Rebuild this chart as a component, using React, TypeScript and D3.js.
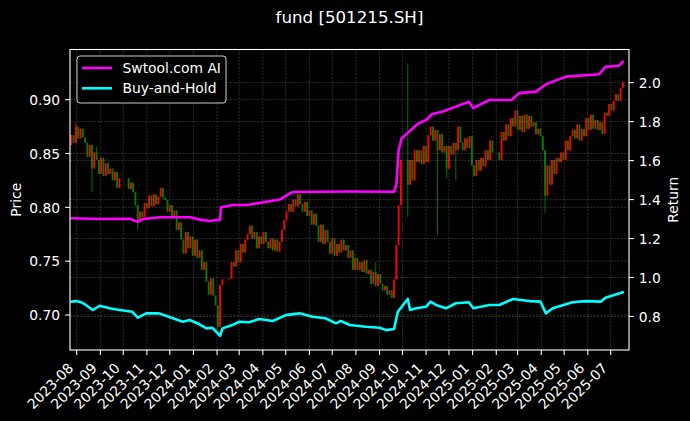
import React from 'react';
import * as d3 from 'd3';

const W = 690;
const H = 421;
const PLOT = { left: 70, right: 629, top: 49.5, bottom: 350 };

const chartTitle = 'fund [501215.SH]';
const leftLabel = 'Price';
const rightLabel = 'Return';
const seriesNames = ['Swtool.com AI', 'Buy-and-Hold'];
const seriesColors = ['#ff00ff', '#00ffff'];

const priceTicks = [0.7, 0.75, 0.8, 0.85, 0.9];
const returnTicks = [0.8, 1.0, 1.2, 1.4, 1.6, 1.8, 2.0];
const monthTicks = [
  '2023-08', '2023-09', '2023-10', '2023-11', '2023-12',
  '2024-01', '2024-02', '2024-03', '2024-04', '2024-05', '2024-06', '2024-07',
  '2024-08', '2024-09', '2024-10', '2024-11', '2024-12',
  '2025-01', '2025-02', '2025-03', '2025-04', '2025-05', '2025-06', '2025-07',
];

// candles: one every 3 calendar days starting at candleStart (null = market closed)
const candleStart = '2023-07-25';
const candleStepDays = 3;
const firstOpen = 0.858;
const closes: (number | null)[] = [
  0.867, 0.860, 0.875, 0.864, 0.873, 0.865, 0.860, 0.847, 0.858, 0.836,
  0.851, 0.844, 0.831, 0.846, 0.829, 0.841, 0.831, 0.836, 0.825, 0.833,
  0.818, 0.827, null, null, null, 0.817, 0.823, 0.814, 0.802, 0.788,
  0.796, 0.791, 0.804, 0.799, 0.811, 0.801, 0.812, 0.803, 0.810, 0.818,
  0.809, 0.807, 0.796, 0.802, 0.790, 0.797, 0.779, 0.786, 0.770, 0.757,
  0.777, 0.762, 0.773, 0.755, 0.770, 0.753, 0.760, 0.742, 0.749, 0.731,
  0.719, 0.734, 0.718, 0.709, 0.689, 0.728, 0.733, null, null, 0.734,
  0.749, 0.745, 0.760, 0.749, 0.766, 0.758, 0.770, 0.775, 0.783, 0.771,
  0.777, 0.762, 0.773, 0.766, 0.777, 0.768, 0.762, 0.771, 0.760, 0.770,
  0.759, 0.768, 0.779, 0.788, 0.796, 0.803, 0.796, 0.807, 0.801, 0.812,
  0.803, 0.796, 0.805, 0.792, 0.797, 0.784, 0.794, 0.783, 0.768, 0.784,
  0.766, 0.779, 0.768, 0.757, 0.771, 0.755, 0.766, 0.758, 0.770, 0.760,
  0.765, 0.753, 0.760, 0.742, 0.753, 0.742, 0.749, 0.740, 0.751, 0.738,
  0.742, 0.729, 0.740, 0.727, 0.738, 0.729, 0.723, 0.727, 0.719, 0.723,
  0.716, 0.733, 0.765, 0.802, 0.844, null, null, 0.821, 0.844, 0.825,
  0.853, 0.842, 0.853, 0.840, 0.857, 0.842, 0.867, 0.875, 0.862, 0.872,
  0.853, 0.868, 0.851, 0.857, 0.836, 0.857, 0.849, 0.860, 0.853, 0.875,
  0.860, 0.853, 0.864, 0.855, 0.866, 0.839, 0.829, 0.844, 0.834, 0.846,
  0.838, 0.853, 0.844, 0.862, 0.851, null, null, 0.844, 0.870, 0.862,
  0.877, 0.866, 0.883, 0.875, 0.890, 0.872, 0.885, 0.870, 0.886, 0.873,
  0.885, 0.875, 0.879, 0.868, 0.873, 0.866, 0.853, 0.811, 0.839, 0.821,
  0.844, 0.831, 0.846, 0.842, 0.851, 0.844, 0.862, 0.853, 0.866, 0.872,
  0.864, 0.877, 0.862, 0.873, 0.866, 0.883, 0.872, 0.886, 0.873, 0.881,
  0.872, 0.879, 0.868, 0.888, 0.885, 0.896, 0.890, 0.899, 0.905, 0.899,
  0.911, 0.916,
];
// long wicks: [candle index, price]
const wickHighs: [number, number][] = [[2, 0.878], [11, 0.856], [133, 0.749], [147, 0.934]];
const wickLows: [number, number][] = [
  [9, 0.814], [29, 0.779], [64, 0.686], [147, 0.791], [160, 0.774],
  [164, 0.827], [168, 0.825], [207, 0.795],
];

const aiDates = [
  '2023-07-25', '2023-08-31', '2023-10-10', '2023-10-20', '2023-10-27', '2023-11-18',
  '2023-12-28', '2024-01-09', '2024-01-23', '2024-01-31', '2024-02-05', '2024-02-06',
  '2024-02-22', '2024-03-11', '2024-04-23', '2024-05-10', '2024-07-24', '2024-09-20',
  '2024-09-23', '2024-09-26', '2024-09-30', '2024-10-08', '2024-10-15', '2024-10-21',
  '2024-11-01', '2024-11-09', '2024-11-22', '2024-12-10', '2024-12-27', '2025-01-02',
  '2025-01-10', '2025-01-23', '2025-02-21', '2025-03-03', '2025-03-25', '2025-04-08',
  '2025-04-16', '2025-05-04', '2025-06-16', '2025-06-24', '2025-07-12', '2025-07-17',
];
const aiValues = [
  1.304, 1.300, 1.301, 1.286, 1.300, 1.309,
  1.309, 1.297, 1.290, 1.295, 1.295, 1.360,
  1.372, 1.372, 1.400, 1.439, 1.441, 1.440,
  1.475, 1.654, 1.715, 1.742, 1.767, 1.788,
  1.808, 1.839, 1.851, 1.877, 1.902, 1.869,
  1.886, 1.911, 1.911, 1.946, 1.954, 1.993,
  2.005, 2.031, 2.043, 2.081, 2.087, 2.108,
];

const bhDates = [
  '2023-07-25', '2023-07-31', '2023-08-07', '2023-08-13', '2023-08-22', '2023-08-31',
  '2023-09-13', '2023-09-26', '2023-10-13', '2023-10-20', '2023-10-31', '2023-11-17',
  '2023-12-05', '2023-12-18', '2023-12-27', '2024-01-09', '2024-01-18', '2024-01-26',
  '2024-02-05', '2024-02-08', '2024-02-21', '2024-03-01', '2024-03-14', '2024-03-27',
  '2024-04-14', '2024-05-01', '2024-05-19', '2024-06-05', '2024-06-22', '2024-07-06',
  '2024-07-12', '2024-07-24', '2024-08-14', '2024-09-01', '2024-09-10', '2024-09-20',
  '2024-09-25', '2024-09-30', '2024-10-08', '2024-10-11', '2024-10-19', '2024-11-01',
  '2024-11-07', '2024-11-14', '2024-11-27', '2024-12-10', '2024-12-27', '2025-01-02',
  '2025-01-23', '2025-02-05', '2025-02-23', '2025-03-16', '2025-03-31', '2025-04-07',
  '2025-04-16', '2025-05-12', '2025-05-29', '2025-06-18', '2025-06-24', '2025-07-17',
];
const bhValues = [
  0.876, 0.879, 0.873, 0.859, 0.833, 0.855,
  0.842, 0.833, 0.824, 0.794, 0.816, 0.816,
  0.791, 0.773, 0.782, 0.760, 0.739, 0.742,
  0.701, 0.739, 0.756, 0.773, 0.770, 0.787,
  0.777, 0.807, 0.816, 0.799, 0.791, 0.765,
  0.777, 0.756, 0.747, 0.742, 0.730, 0.736,
  0.824, 0.850, 0.890, 0.833, 0.842, 0.850,
  0.876, 0.859, 0.842, 0.868, 0.873, 0.842,
  0.859, 0.859, 0.890, 0.879, 0.876, 0.816,
  0.842, 0.873, 0.879, 0.876, 0.896, 0.924,
];

const parseDay = d3.timeParse('%Y-%m-%d');
const parseMonth = d3.timeParse('%Y-%m');
const FONT = 'DejaVu Sans, sans-serif';

export default function App() {
  const x = d3
    .scaleTime()
    .domain([new Date(2023, 6, 23, 5), new Date(2025, 6, 25)])
    .range([PLOT.left, PLOT.right]);
  const yL = d3.scaleLinear().domain([0.6675, 0.9466]).range([PLOT.bottom, PLOT.top]);
  const yR = d3.scaleLinear().domain([0.628, 2.17]).range([PLOT.bottom, PLOT.top]);

  const start = parseDay(candleStart) as Date;
  const hiMap = new Map(wickHighs);
  const loMap = new Map(wickLows);
  const candles: { date: Date; o: number; c: number; h: number; l: number }[] = [];
  let prev = firstOpen;
  closes.forEach((c, i) => {
    if (c == null) return;
    const o = prev;
    const h = Math.max(o, c, hiMap.get(i) ?? -Infinity);
    const l = Math.min(o, c, loMap.get(i) ?? Infinity);
    candles.push({ date: d3.timeDay.offset(start, i * candleStepDays), o, c, h, l });
    prev = c;
  });

  const line = d3
    .line<[Date, number]>()
    .x((d) => x(d[0]))
    .y((d) => yR(d[1]));
  const aiPts: [Date, number][] = aiDates.map((d, i) => [parseDay(d) as Date, aiValues[i]]);
  const bhPts: [Date, number][] = bhDates.map((d, i) => [parseDay(d) as Date, bhValues[i]]);

  const gridStyle = {
    stroke: '#a0a0a0',
    strokeOpacity: 0.45,
    strokeWidth: 0.6,
    strokeDasharray: '2.2,1.2',
  };
  const fmtP = d3.format('.2f');
  const fmtR = d3.format('.1f');
  const fmtM = d3.timeFormat('%Y-%m');

  return (
    <svg
      width={W}
      height={H}
      style={{ position: 'absolute', left: 0, top: 0, display: 'block', background: '#000' }}
      fontFamily={FONT}
    >
      <rect x={0} y={0} width={W} height={H} fill="#000" />
      <text x={349.5} y={22.5} fill="#fff" fontSize={16.67} textAnchor="middle">
        {chartTitle}
      </text>

      {monthTicks.map((m) => {
        const xx = x(parseMonth(m) as Date);
        return <line key={'gx' + m} x1={xx} x2={xx} y1={PLOT.top} y2={PLOT.bottom} {...gridStyle} />;
      })}
      {priceTicks.map((t) => (
        <line key={'gl' + t} x1={PLOT.left} x2={PLOT.right} y1={yL(t)} y2={yL(t)} {...gridStyle} />
      ))}

      {candles.map((k, i) => {
        const cx = x(k.date);
        const col = k.c >= k.o ? '#ff0000' : '#008000';
        const top = yL(Math.max(k.o, k.c));
        const bot = yL(Math.min(k.o, k.c));
        return (
          <g key={'k' + i}>
            <line x1={cx} x2={cx} y1={yL(k.h)} y2={yL(k.l)} stroke={col} strokeWidth={0.9} />
            <rect x={cx - 0.9} width={1.8} y={top} height={Math.max(0.8, bot - top)} fill={col} />
          </g>
        );
      })}

      {returnTicks.map((t) => (
        <line key={'gr' + t} x1={PLOT.left} x2={PLOT.right} y1={yR(t)} y2={yR(t)} {...gridStyle} />
      ))}

      <path d={line(aiPts) || ''} fill="none" stroke={seriesColors[0]} strokeWidth={2.6} strokeLinejoin="round" strokeLinecap="round" />
      <path d={line(bhPts) || ''} fill="none" stroke={seriesColors[1]} strokeWidth={2.6} strokeLinejoin="round" strokeLinecap="round" />

      <rect
        x={PLOT.left}
        y={PLOT.top}
        width={PLOT.right - PLOT.left}
        height={PLOT.bottom - PLOT.top}
        fill="none"
        stroke="#fff"
        strokeWidth={1.1}
      />

      {priceTicks.map((t) => (
        <g key={'lt' + t}>
          <line x1={PLOT.left - 4.9} x2={PLOT.left} y1={yL(t)} y2={yL(t)} stroke="#fff" strokeWidth={1.1} />
          <text x={PLOT.left - 9.8} y={yL(t) + 5.3} fill="#fff" fontSize={13.89} textAnchor="end">
            {fmtP(t)}
          </text>
        </g>
      ))}
      <text transform={`translate(21,${(PLOT.top + PLOT.bottom) / 2}) rotate(-90)`} fill="#fff" fontSize={13.89} textAnchor="middle">
        {leftLabel}
      </text>

      {returnTicks.map((t) => (
        <g key={'rt' + t}>
          <line x1={PLOT.right} x2={PLOT.right + 4.9} y1={yR(t)} y2={yR(t)} stroke="#fff" strokeWidth={1.1} />
          <text x={PLOT.right + 9.8} y={yR(t) + 5.3} fill="#fff" fontSize={13.89} textAnchor="start">
            {fmtR(t)}
          </text>
        </g>
      ))}
      <text transform={`translate(678,${(PLOT.top + PLOT.bottom) / 2}) rotate(-90)`} fill="#fff" fontSize={13.89} textAnchor="middle">
        {rightLabel}
      </text>

      {monthTicks.map((m) => {
        const d = parseMonth(m) as Date;
        const xx = x(d);
        return (
          <g key={'bt' + m}>
            <line x1={xx} x2={xx} y1={PLOT.bottom} y2={PLOT.bottom + 4.9} stroke="#fff" strokeWidth={1.1} />
            <text transform={`translate(${xx - 2.5},369) rotate(-45)`} fill="#fff" fontSize={13.89} textAnchor="end">
              {fmtM(d)}
            </text>
          </g>
        );
      })}

      <rect x={77} y={56} width={149} height={47} rx={3} fill="#000" fillOpacity={0.8} stroke="#cccccc" strokeWidth={1} />
      {seriesNames.map((n, i) => (
        <g key={'lg' + n}>
          <line x1={82} x2={112} y1={68 + i * 20.3} y2={68 + i * 20.3} stroke={seriesColors[i]} strokeWidth={2.6} />
          <text x={122.5} y={73 + i * 20.3} fill="#fff" fontSize={13.89}>
            {n}
          </text>
        </g>
      ))}
    </svg>
  );
}
